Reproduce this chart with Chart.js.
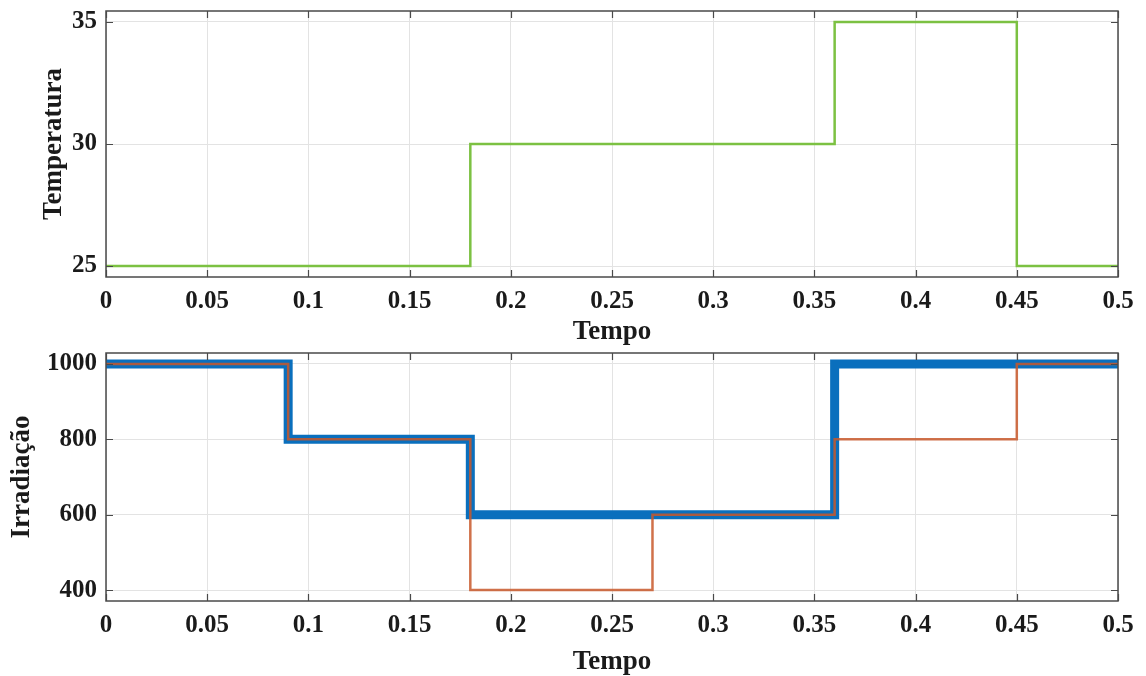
<!DOCTYPE html>
<html>
<head>
<meta charset="utf-8">
<script src="https://cdn.jsdelivr.net/npm/chart.js@4/dist/chart.umd.min.js"></script>
<style>
  html, body { margin: 0; padding: 0; background: #ffffff; }
  body { width: 1146px; height: 676px; position: relative; overflow: hidden; }
  canvas { position: absolute; left: 0; }
</style>
</head>
<body>
<canvas id="c1" width="1146" height="350" style="top:0px"></canvas>
<canvas id="c2" width="1146" height="340" style="top:336px"></canvas>
<script>
// ---- data ----
const timeTicks = [0, 0.05, 0.1, 0.15, 0.2, 0.25, 0.3, 0.35, 0.4, 0.45, 0.5];
const timeTickLabels = ['0', '0.05', '0.1', '0.15', '0.2', '0.25', '0.3', '0.35', '0.4', '0.45', '0.5'];

const tempTimes = [0, 0.18, 0.36, 0.45, 0.5];
const tempValues = [25, 30, 35, 25, 25];
const tempTicks = [25, 30, 35];

const irrBlueTimes = [0, 0.09, 0.18, 0.36, 0.5];
const irrBlueValues = [1000, 800, 600, 1000, 1000];
const irrOrangeTimes = [0, 0.09, 0.18, 0.27, 0.36, 0.45, 0.5];
const irrOrangeValues = [1000, 800, 400, 600, 800, 1000, 1000];
const irrTicks = [400, 600, 800, 1000];

// ---- helpers ----
const FONT = '"Liberation Serif", "Times New Roman", serif';
const toPts = (xs, ys) => xs.map((x, i) => ({ x: x, y: ys[i] }));

const framePlugin = {
  id: 'frame',
  afterDatasetsDraw(chart) {
    const { ctx, chartArea: { left, top, right, bottom }, scales: { x, y } } = chart;
    ctx.save();
    ctx.strokeStyle = '#4a4a4a';
    ctx.lineWidth = 1.5;
    ctx.strokeRect(left, top, right - left, bottom - top);
    ctx.lineWidth = 1.2;
    const L = 7;
    ctx.beginPath();
    x.ticks.forEach(t => {
      const px = Math.round(x.getPixelForValue(t.value)) + 0.5;
      ctx.moveTo(px, bottom); ctx.lineTo(px, bottom - L);
      ctx.moveTo(px, top); ctx.lineTo(px, top + L);
    });
    y.ticks.forEach(t => {
      const py = Math.round(y.getPixelForValue(t.value)) + 0.5;
      ctx.moveTo(left, py); ctx.lineTo(left + L, py);
      ctx.moveTo(right, py); ctx.lineTo(right - L, py);
    });
    ctx.stroke();
    ctx.restore();
  }
};

function makeOptions(cfg) {
  return {
    responsive: false,
    animation: false,
    devicePixelRatio: 1,
    events: [],
    layout: { padding: { top: cfg.padTop, right: 28, left: 0, bottom: 0 } },
    plugins: { legend: { display: false }, tooltip: { enabled: false } },
    elements: { point: { radius: 0 } },
    scales: {
      x: {
        type: 'linear',
        min: 0, max: 0.5,
        afterBuildTicks: s => { s.ticks = timeTicks.map(v => ({ value: v })); },
        afterFit: s => { s.height = cfg.xHeight; s.paddingLeft = 0; s.paddingRight = 0; },
        ticks: {
          padding: 10,
          color: '#1a1a1a',
          maxRotation: 0,
          autoSkip: false,
          font: { family: FONT, size: 25, weight: 'bold', lineHeight: 1.2 },
          callback: (v, i) => timeTickLabels[i]
        },
        grid: { color: '#e3e3e3', lineWidth: 1, drawTicks: false },
        border: { display: false },
        title: {
          display: true, text: 'Tempo', color: '#1a1a1a',
          font: { family: FONT, size: 27, weight: 'bold', lineHeight: 1.0 },
          padding: { top: 0, bottom: cfg.xTitlePad }
        }
      },
      y: {
        type: 'linear',
        min: cfg.yMin, max: cfg.yMax,
        afterBuildTicks: s => { s.ticks = cfg.yTicks.map(v => ({ value: v })); },
        afterFit: s => { s.width = 106; s.paddingTop = 0; s.paddingBottom = 0; },
        ticks: {
          padding: 9,
          color: '#1a1a1a',
          autoSkip: false,
          font: { family: FONT, size: 25, weight: 'bold', lineHeight: 1.2 },
          callback: v => String(v)
        },
        grid: { color: '#e3e3e3', lineWidth: 1, drawTicks: false },
        border: { display: false },
        title: {
          display: true, text: cfg.yTitle, color: '#1a1a1a',
          font: { family: FONT, size: 27, weight: 'bold', lineHeight: 1.0 },
          padding: { top: cfg.yTitlePad, bottom: 0 }
        }
      }
    }
  };
}

new Chart(document.getElementById('c1'), {
  type: 'line',
  data: {
    datasets: [{
      data: toPts(tempTimes, tempValues),
      stepped: 'before',
      borderColor: '#7cc142',
      borderWidth: 2.5,
      borderJoinStyle: 'miter',
      borderCapStyle: 'butt',
      fill: false
    }]
  },
  options: makeOptions({ padTop: 11, xHeight: 73, xTitlePad: 4, yMin: 24.55, yMax: 35.45, yTicks: tempTicks, yTitle: 'Temperatura', yTitlePad: 40.5 }),
  plugins: [framePlugin]
});

new Chart(document.getElementById('c2'), {
  type: 'line',
  data: {
    datasets: [{
      data: toPts(irrOrangeTimes, irrOrangeValues),
      stepped: 'before',
      borderColor: 'rgba(200,88,42,0.85)',
      borderWidth: 2.5,
      borderJoinStyle: 'miter',
      borderCapStyle: 'butt',
      fill: false
    }, {
      data: toPts(irrBlueTimes, irrBlueValues),
      stepped: 'before',
      borderColor: '#0a6fbd',
      borderWidth: 9,
      borderJoinStyle: 'miter',
      borderCapStyle: 'butt',
      fill: false
    }]
  },
  options: makeOptions({ padTop: 17, xHeight: 75, xTitlePad: 0, yMin: 371, yMax: 1029, yTicks: irrTicks, yTitle: 'Irradiação', yTitlePad: 8.5 }),
  plugins: [framePlugin]
});
</script>
</body>
</html>
